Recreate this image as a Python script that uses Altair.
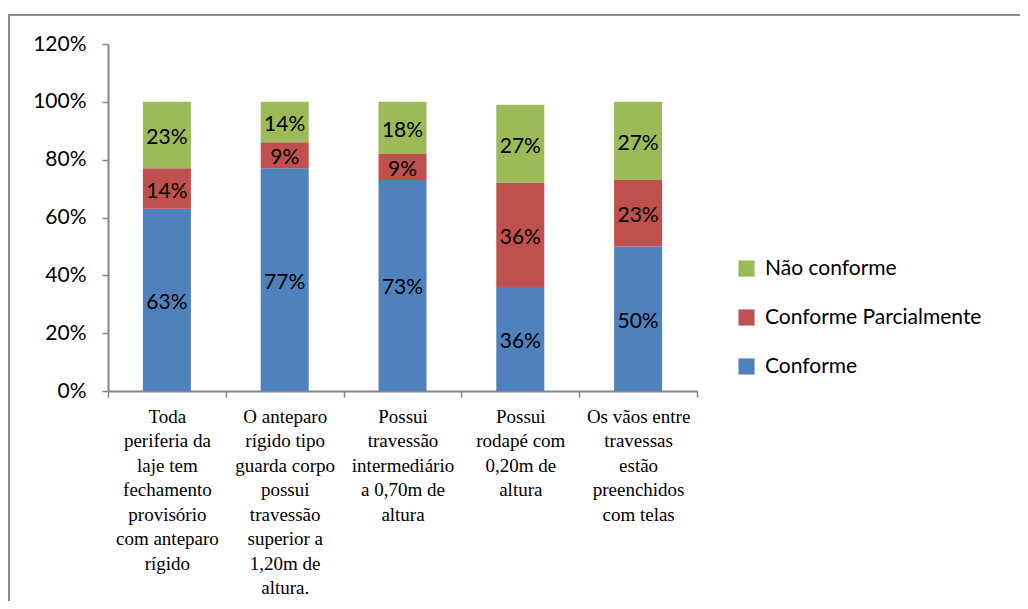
import altair as alt
import pandas as pd

categories = [
    "Toda\nperiferia da\nlaje tem\nfechamento\nprovisório\ncom anteparo\nrígido",
    "O anteparo\nrígido tipo\nguarda corpo\npossui\ntravessão\nsuperior a\n1,20m de\naltura.",
    "Possui\ntravessão\nintermediário\na 0,70m de\naltura",
    "Possui\nrodapé com\n0,20m de\naltura",
    "Os vãos entre\ntravessas\nestão\npreenchidos\ncom telas",
]
series = ["Conforme", "Conforme Parcialmente", "Não conforme"]
conforme = [63, 77, 73, 36, 50]
parcial = [14, 9, 9, 36, 23]
nao_conforme = [23, 14, 18, 27, 27]
colors = ["#4F81BD", "#C0504D", "#9BBB59"]

rows = []
for i, c in enumerate(categories):
    for j, (s, vals) in enumerate(zip(series, [conforme, parcial, nao_conforme])):
        rows.append({"cat": c, "serie": s, "ord": j, "v": vals[i] / 100.0,
                     "lbl": f"{vals[i]}%"})
df = pd.DataFrame(rows)

W, H = 589, 347

base = alt.Chart(df).transform_stack(
    stack="v", groupby=["cat"], sort=[alt.SortField("ord")], as_=["y0", "y1"]
).transform_calculate(mid="(datum.y0 + datum.y1) / 2")

x_enc = alt.X("cat:N", sort=categories, title=None,
              scale=alt.Scale(paddingInner=0, paddingOuter=0),
              axis=alt.Axis(labelExpr="split(datum.label, '\\n')", labelAngle=0,
                            labelFont="Liberation Serif", labelFontSize=19,
                            labelLineHeight=24.5, labelColor="#000000",
                            labelPadding=10, tickBand="extent", tickSize=6,
                            domainColor="#868686", tickColor="#868686",
                            domainWidth=2, tickWidth=1.5, labelBaseline="top"))

bars = base.mark_bar(size=48).encode(
    x=x_enc,
    y=alt.Y("y0:Q", title=None,
            scale=alt.Scale(domain=[0, 1.2], nice=False),
            axis=alt.Axis(values=[0, 0.2, 0.4, 0.6, 0.8, 1.0, 1.2], format=".0%",
                          grid=False, labelFont="Lato", labelFontSize=21,
                          labelColor="#000000", labelPadding=16, tickSize=6,
                          domainColor="#868686", tickColor="#868686",
                          domainWidth=2, tickWidth=1.5)),
    y2="y1:Q",
    color=alt.Color("serie:N", scale=alt.Scale(domain=series, range=colors),
                    legend=alt.Legend(title=None, orient="none", legendX=628,
                                      legendY=214, symbolType="square",
                                      values=series[::-1],
                                      symbolSize=260, symbolStrokeWidth=0,
                                      labelFont="Lato", labelFontSize=21,
                                      labelLimit=0,
                                      labelColor="#000000", rowPadding=27,
                                      labelOffset=8)),
)

texts = base.mark_text(font="Lato", fontSize=21, color="#000000", dy=3).encode(
    x=alt.X("cat:N", sort=categories),
    y=alt.Y("mid:Q"),
    text="lbl:N",
)

frame = alt.Chart(pd.DataFrame({"a": [0]})).mark_rect(
    fill=None, stroke="#8c8c8c", strokeWidth=2
).encode(x=alt.value(-99), x2=alt.value(1100), y=alt.value(-29), y2=alt.value(700))

chart = alt.layer(frame, bars, texts).properties(
    width=W, height=H,
    autosize=alt.AutoSizeParams(type="none"),
    padding={"left": 100, "top": 36, "right": 323, "bottom": 210},
).configure_view(stroke=None)

chart.save("out.html", embed_options={"renderer": "svg", "actions": False})
